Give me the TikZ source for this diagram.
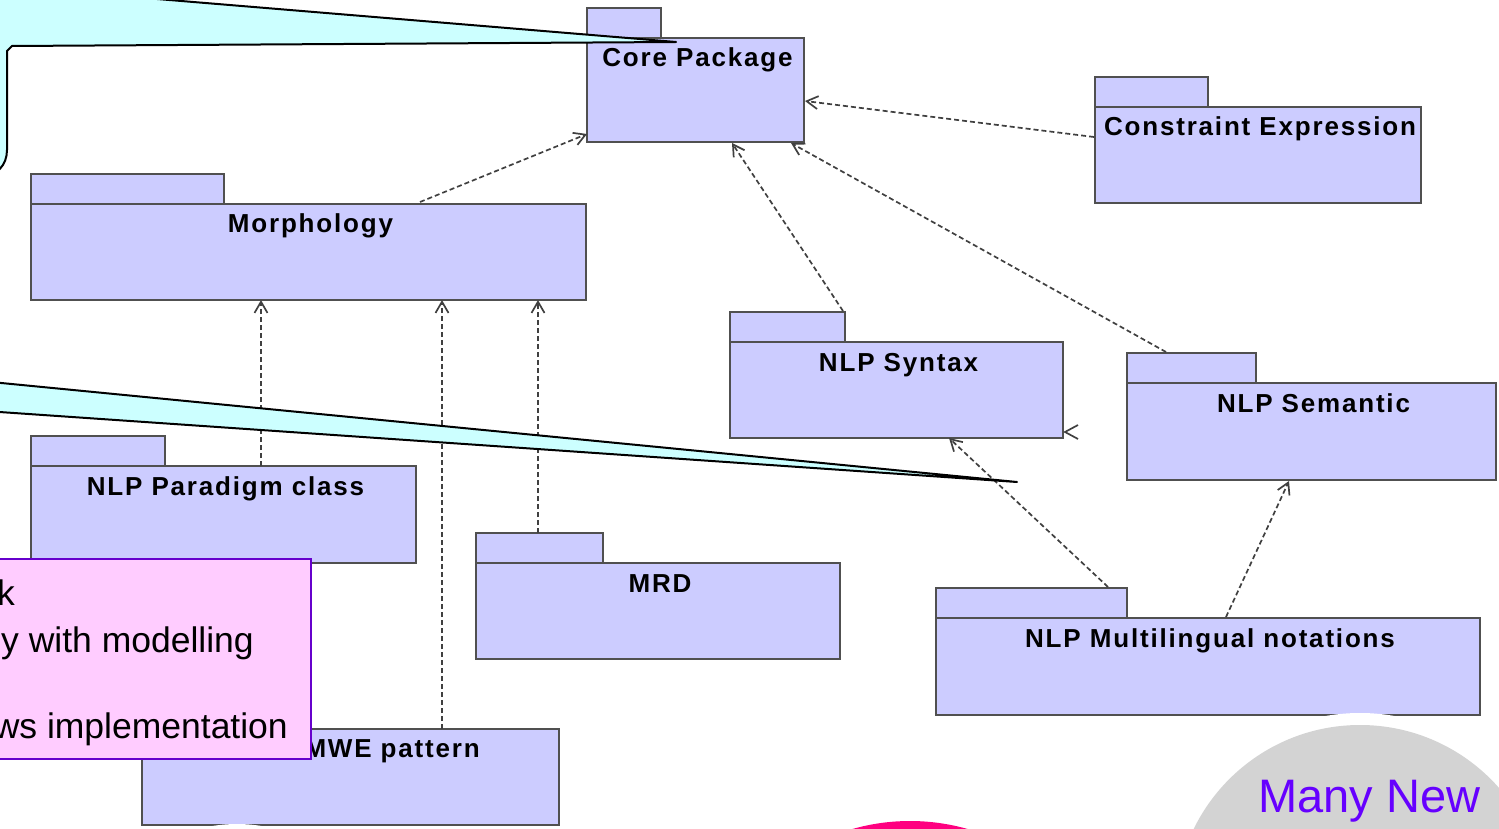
\documentclass[tikz,border=0pt]{standalone}
\usepackage{fontspec}
\setmainfont{Liberation Sans}
\newfontfamily\pkgfont{Liberation Sans}[LetterSpace=7]
\usetikzlibrary{arrows.meta,calc}

\definecolor{pkgfill}{HTML}{CCCCFF}
\definecolor{pkgline}{HTML}{505050}
\definecolor{depline}{HTML}{404040}
\definecolor{callfill}{HTML}{CCFFFF}
\definecolor{notefill}{HTML}{FFCCFF}
\definecolor{noteline}{HTML}{6600CC}
\definecolor{bubblegray}{HTML}{D3D3D3}
\definecolor{bubbletext}{HTML}{6600FF}
\definecolor{bubblepink}{HTML}{FF0080}

\tikzset{
  pkgbox/.style={rectangle, draw=pkgline, fill=pkgfill, line width=2pt,
                 inner sep=0pt, outer sep=0pt},
  pkglabel/.style={anchor=base, inner sep=0pt,
                   font=\pkgfont\bfseries\fontsize{26}{30}\selectfont},
  dep/.style={draw=depline, line width=1.7pt, dash pattern=on 5pt off 3pt,
              -{Straight Barb[angle=60:13pt]}},
  callout/.style={fill=callfill, draw=black, line width=2pt, line join=round},
  notebox/.style={rectangle, draw=noteline, fill=notefill, line width=2pt,
                  inner sep=0pt, outer sep=0pt},
  notetext/.style={anchor=base east, inner sep=0pt,
                   font=\fontsize{35.5}{42}\selectfont},
}

% UML package: name, x, y of body top, body width, body height, tab width, label
\newcommand\umlpkg[7]{%
  \node[pkgbox, anchor=south west, minimum width=#6, minimum height=30]
       (#1-tab) at (#2,#3) {};
  \node[pkgbox, anchor=north west, minimum width=#4, minimum height=#5]
       (#1) at (#2,#3) {};
  \node[pkglabel] (#1-label) at ($(#1.north)+(2,29)$) {#7};
}

\begin{document}
\begin{tikzpicture}[x=1pt, y=-1pt]
\useasboundingbox (0,0) rectangle (1499,829);
\clip (0,0) rectangle (1499,829);

% packages
\umlpkg{core}{587}{38}{217}{104}{74}{Core Package}
\umlpkg{constr}{1095}{107}{326}{96}{113}{Constraint Expression}
\umlpkg{morph}{31}{204}{555}{96}{193}{Morphology}
\umlpkg{syntax}{730}{342}{333}{96}{115}{NLP Syntax}
\umlpkg{semantic}{1127}{383}{369}{97}{129}{NLP Semantic}
\umlpkg{paradigm}{31}{466}{385}{97}{134}{NLP Paradigm class}
\umlpkg{mrd}{476}{563}{364}{96}{127}{MRD}
\umlpkg{multi}{936}{618}{544}{97}{191}{NLP Multilingual notations}
\node[pkgbox, anchor=south west, minimum width=130, minimum height=30]
     (mwe-tab) at (142,729) {};
\node[pkgbox, anchor=north west, minimum width=417, minimum height=96]
     (mwe) at (142,729) {};
\node[pkglabel, anchor=base east] (mwe-label) at (480,757) {MWE pattern};

% dependencies
\draw[dep] ($(morph.north west)+(389,-2)$) -- ($(core.south west)+(0,-8)$);
\draw[dep] ($(syntax-tab.north east)+(-2,-1)$) -- ($(core.south west)+(145,1)$);
\draw[dep] ($(semantic-tab.north west)+(39,-1)$) -- ($(core.south east)+(-13,1)$);
\draw[dep] ($(constr.north west)+(-1,30)$) -- ($(core.north east)+(1,63)$);
\draw[dep] ($(paradigm.north west)+(230,0)$) -- ($(morph.south west)+(230,0)$);
\draw[dep] ($(mwe.north west)+(300,0)$) -- ($(morph.south west)+(411,0)$);
\draw[dep] ($(mrd-tab.north west)+(62,0)$) -- ($(morph.south west)+(507,0)$);
\draw[dep] ($(multi-tab.north west)+(172,-1)$) -- ($(syntax.south west)+(219,0)$);
\draw[dep] ($(multi.north west)+(290,-1)$) -- ($(semantic.south west)+(162,1)$);
% open arrow head at the right corner of NLP Syntax
\coordinate (synhead) at ($(syntax.south east)+(2,-6)$);
\draw[depline, line width=1.7pt]
  ($(synhead)+(13,-7)$) -- (synhead) -- ($(synhead)+(13,7)$);

% callouts
\draw[callout]
  (-60,-19) -- (676,42) -- (12,46) -- (7,51) -- (7,150)
  .. controls (7,165) and (-3,176) .. (-18,176) -- (-60,176) -- cycle;
\draw[callout] (-50,378) -- (1017,482) -- (-50,408.6) -- cycle;

% note
\node[notebox, anchor=north west, minimum width=331, minimum height=200]
     (note) at (-20,559) {};
\node[notetext] (note-1) at (15,605) {k};
\node[notetext] (note-2) at (254,652) {y with modelling};
\node[notetext] (note-3) at (288,738) {ws implementation};

% bubbles
\fill[white] (237,974) circle (150);
\fill[bubblepink] (910,1031) circle (210);
\fill[white] (1360,910) circle (197);
\fill[bubblegray] (1360,910) circle (185);
\node[anchor=base west, inner sep=0pt, text=bubbletext,
      font=\fontsize{47}{54}\selectfont] (bubble-text) at (1258,812) {Many New};
\end{tikzpicture}
\end{document}
